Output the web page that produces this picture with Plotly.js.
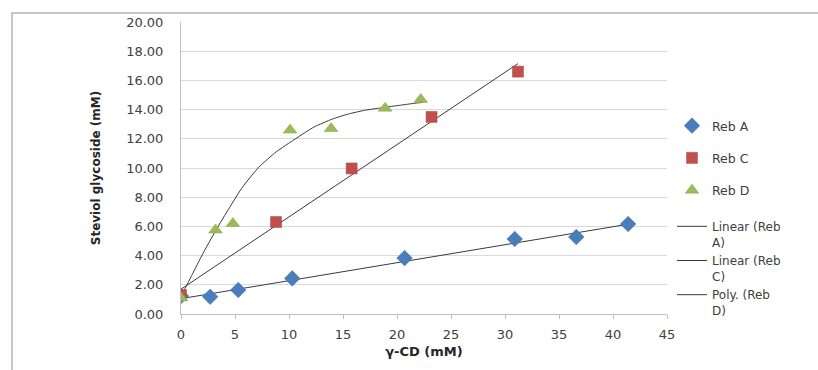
<!DOCTYPE html>
<html>
<head>
<meta charset="utf-8">
<script src="https://cdn.plot.ly/plotly-3.0.1.min.js"></script>
<style>
html,body{margin:0;padding:0;background:#fff;}
#chart{width:818px;height:370px;}
</style>
</head>
<body>
<div id="chart"></div>
<script>
// ---- data ----
const rebA_x = [0, 2.7, 5.3, 10.3, 20.7, 30.9, 36.6, 41.4];
const rebA_y = [1.23, 1.18, 1.64, 2.44, 3.83, 5.14, 5.27, 6.16];

const rebC_x = [0, 8.8, 15.8, 23.2, 31.2];
const rebC_y = [1.30, 6.30, 9.97, 13.50, 16.60];

const rebD_x = [0, 3.2, 4.8, 10.1, 13.9, 18.9, 22.2];
const rebD_y = [1.10, 5.75, 6.20, 12.60, 12.70, 14.10, 14.70];

// trendlines
const linA_x = [0, 41.4];
const linA_y = [1.05, 6.15];
const linC_x = [0, 31.2];
const linC_y = [1.70, 17.15];
const polyD_x = [0, 1, 2, 3.2, 4.5, 5.7, 7.2, 8.8, 10.6, 12.3, 14, 15.5, 17, 18.5, 20, 21.5, 22.4];
const polyD_y = [1.2, 2.65, 4.1, 5.7, 7.3, 8.7, 10.05, 11.1, 12.0, 12.8, 13.35, 13.7, 13.95, 14.12, 14.27, 14.42, 14.5];

const xTicks = [0, 5, 10, 15, 20, 25, 30, 35, 40, 45];
const yTicks = [0, 2, 4, 6, 8, 10, 12, 14, 16, 18, 20];

const lineStyle = {color:'#3a3a3a', width:1};
const font = 'DejaVu Sans, Liberation Sans, sans-serif';

const traces = [
  {x:linA_x, y:linA_y, mode:'lines', name:'Linear (Reb<br>A)', line:lineStyle, legend:'legend2', hoverinfo:'skip'},
  {x:linC_x, y:linC_y, mode:'lines', name:'Linear (Reb<br>C)', line:lineStyle, legend:'legend2', hoverinfo:'skip'},
  {x:polyD_x, y:polyD_y, mode:'lines', name:'Poly. (Reb<br>D)', line:Object.assign({shape:'spline', smoothing:0.5}, lineStyle), legend:'legend2', hoverinfo:'skip'},
  {x:rebA_x, y:rebA_y, mode:'markers', name:'Reb A', legendgroup:'a',
   marker:{symbol:'diamond', size:12, color:'#4a7ebb', line:{color:'#3f6da6', width:0.5}}},
  {x:rebC_x, y:rebC_y, mode:'markers', name:'Reb C', legendgroup:'c',
   marker:{symbol:'square', size:11, color:'#c0504d', line:{color:'#a84542', width:0.5}}},
  {x:rebD_x, y:rebD_y, mode:'markers', name:'Reb D', legendgroup:'d',
   marker:{symbol:'triangle-up', size:12, color:'#9bbb59', line:{color:'#87a54b', width:0.5}}}
];

// plot area: left 181, right 667, top 22, bottom 314
const L=181, R=667, T=22, B=314, W=818, H=370;
const px = p => (p-L)/(R-L);
const py = p => (B-p)/(B-T);

const layout = {
  width:W, height:H,
  margin:{l:L, r:W-R, t:T, b:H-B},
  paper_bgcolor:'#ffffff', plot_bgcolor:'#ffffff',
  font:{family:font, size:13, color:'#404040'},
  showlegend:true,
  xaxis:{
    range:[0,45], tickvals:xTicks, ticktext:xTicks.map(String),
    showgrid:false, zeroline:false, showline:true, linecolor:'#bfbfbf', linewidth:1,
    ticks:'outside', ticklen:4, tickcolor:'#bfbfbf', ticklabelstandoff:4,
    tickfont:{family:font, size:13, color:'#404040'},
    title:{text:'<b>γ-CD (mM)</b>', font:{family:font, size:13, color:'#262626'}, standoff:6}
  },
  yaxis:{
    range:[0,20], tickvals:yTicks, ticktext:yTicks.map(v=>v.toFixed(2)),
    showgrid:true, gridcolor:'#d9d9d9', gridwidth:1, zeroline:false,
    showline:true, linecolor:'#bfbfbf', linewidth:1,
    ticks:'', ticklabelstandoff:14,
    tickfont:{family:font, size:13, color:'#404040'},
    title:{text:'<b>Steviol glycoside (mM)</b>', font:{family:font, size:12, color:'#262626'}, standoff:22}
  },
  legend:{
    x:px(672), xanchor:'left', y:py(111), yanchor:'top',
    bgcolor:'rgba(0,0,0,0)', borderwidth:0,
    font:{family:font, size:12.5, color:'#404040'},
    tracegroupgap:13, traceorder:'grouped', itemwidth:30
  },
  legend2:{
    x:px(672), xanchor:'left', y:py(212), yanchor:'top',
    bgcolor:'rgba(0,0,0,0)', borderwidth:0,
    font:{family:font, size:12, color:'#404040'},
    valign:'top', tracegroupgap:0, traceorder:'normal', itemwidth:30
  },
  shapes:[
    {type:'rect', xref:'paper', yref:'paper', x0:px(12), x1:px(822), y0:py(375), y1:py(13),
     line:{color:'#b4b4b4', width:1.5}, fillcolor:'rgba(0,0,0,0)', layer:'below'}
  ]
};

Plotly.newPlot('chart', traces, layout, {displayModeBar:false, staticPlot:true});
</script>
</body>
</html>
